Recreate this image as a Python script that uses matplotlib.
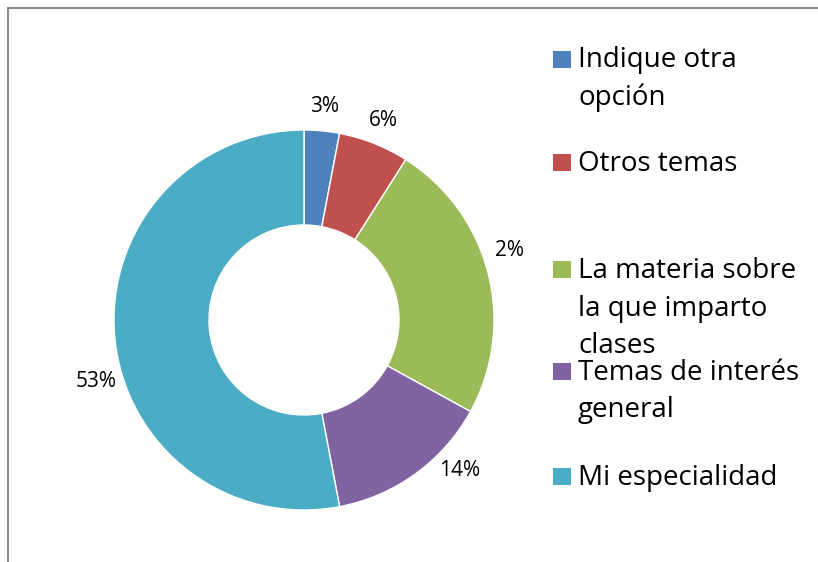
import numpy as np
import matplotlib.pyplot as plt
from matplotlib.patches import Rectangle

# datos
categorias = ['Indique otra\nopción', 'Otros temas', 'La materia sobre\nla que imparto\nclases',
              'Temas de interés\ngeneral', 'Mi especialidad']
valores = [3, 6, 24, 14, 53]
etiquetas = ['3%', '6%', '2%', '14%', '53%']
colores = ['#4F81BD', '#C0504D', '#9BBB59', '#8064A2', '#4BACC6']

plt.rcParams['font.family'] = ['Open Sans', 'DejaVu Sans']

W, H = 818, 562
fig = plt.figure(figsize=(W / 100, H / 100), dpi=100)

# marco gris (cortado a la derecha y abajo)
fig.patches.append(Rectangle((8 / W, -0.1), 2, (H - 8) / H + 0.1, transform=fig.transFigure,
                             fill=False, edgecolor='#8c8c8c', linewidth=1.5))

# donut: centro (304, 320), radio 190 px
cx, cy, r = 304, 320, 190
ax = fig.add_axes([(cx - r) / W, (H - cy - r) / H, 2 * r / W, 2 * r / H])
wedges, textos = ax.pie(valores, colors=colores, labels=etiquetas, startangle=90, counterclock=False,
                        radius=1, labeldistance=1.13,
                        wedgeprops=dict(width=0.5, edgecolor='white', linewidth=1),
                        textprops=dict(fontsize=15, ha='center', va='center'))
for t in textos:
    t.set_horizontalalignment('center')
# Excel coloca algunas etiquetas fuera del punto medio
ajustes = {2: 18.8, 3: -44, 4: -163.5}
for i, ang in ajustes.items():
    d = 1.14
    textos[i].set_position((d * np.cos(np.radians(ang)), d * np.sin(np.radians(ang))))
ax.set_xlim(-1, 1)
ax.set_ylim(-1, 1)
ax.set_aspect('equal')

# leyenda manual (línea base de la primera línea de cada entrada)
legend_base = [68, 171, 278, 380, 485]
paso = 37.5  # px entre líneas
for cat, col, yb in zip(categorias, colores, legend_base):
    fig.patches.append(Rectangle((553 / W, 1 - (yb) / H), 18 / W, 17 / H,
                                 transform=fig.transFigure, facecolor=col, edgecolor='none'))
    y_ult = yb + (cat.count('\n')) * paso  # matplotlib alinea la última línea
    fig.text(578 / W, 1 - y_ult / H, cat, fontsize=20, va='baseline', ha='left', linespacing=1.45)

fig.savefig('out.png', dpi=100)
